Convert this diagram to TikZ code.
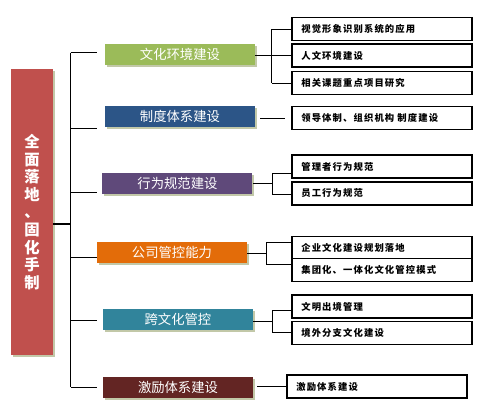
\documentclass[tikz,border=0pt]{standalone}
\usepackage{fontspec}
\newfontfamily\cjk{Noto Sans CJK SC}
\newfontfamily\cjkleaf[LetterSpace=12]{Noto Sans CJK SC}
\usetikzlibrary{shadows}

\definecolor{rootred}{HTML}{C0504D}
\definecolor{catgreen}{HTML}{9BBB59}
\definecolor{catblue}{HTML}{2C5587}
\definecolor{catpurple}{HTML}{5F497A}
\definecolor{catorange}{HTML}{E36C09}
\definecolor{catteal}{HTML}{31849B}
\definecolor{catmaroon}{HTML}{632523}
\definecolor{shadowgreen}{HTML}{C2C8A8}

\tikzset{
  boxshadow/.style={drop shadow={shadow xshift=1.5pt, shadow yshift=-1.5pt,
      fill=shadowgreen, opacity=1}},
  rootbox/.style={fill=rootred, boxshadow, minimum width=31.5pt,
      minimum height=214.5pt, inner sep=0pt, text=white, align=center,
      font=\cjk\bfseries\fontsize{11.5}{13.2}\selectfont},
  catbox/.style={fill=#1, boxshadow, minimum width=112.5pt,
      minimum height=15.75pt, inner sep=0pt, text=white,
      font=\cjk\fontsize{10}{12}\selectfont},
  leafbox/.style={draw=black, line width=0.9pt, fill=white,
      minimum height=17.25pt, text width=121pt, inner xsep=7pt,
      inner ysep=0pt, align=left, font=\cjkleaf\bfseries\fontsize{7}{8}\selectfont},
  link/.style={line width=0.75pt}
}

\begin{document}
\begin{tikzpicture}[x=0.75pt,y=-0.75pt]
\useasboundingbox (0,0) rectangle (480,404);

% root box
\node [rootbox] (root) at (32,212) {全\\面\\落\\地\\、\\固\\化\\手\\制};

% first level boxes
\foreach \name/\xx/\yy/\col/\lab in {
  cultA/180/54/catgreen/文化环境建设,
  cultB/180/116.5/catblue/制度体系建设,
  cultC/177.5/183/catpurple/行为规范建设,
  cultD/172/252.5/catorange/公司管控能力,
  cultE/178/319.5/catteal/跨文化管控,
  cultF/178/387/catmaroon/激励体系建设} {
  \node [catbox=\col] (\name) at (\xx,\yy) {\lab};
}

% leaves
\node [leafbox] (a1) at (382,29)    {视觉形象识别系统的应用};
\node [leafbox] (a2) at (382,55.5)  {人文环境建设};
\node [leafbox] (a3) at (382,83)    {相关课题重点项目研究};
\node [leafbox] (b1) at (382,118)   {领导体制、组织机构 制度建设};
\node [leafbox] (c1) at (382,166.5) {管理者行为规范};
\node [leafbox] (c2) at (382,193.5) {员工行为规范};
\node [leafbox] (d1) at (382,248)   {企业文化建设规划落地};
\node [leafbox] (d2) at (382,270)   {集团化、一体化文化管控模式};
\node [leafbox] (e1) at (382,306.5) {文明出境管理};
\node [leafbox] (e2) at (382,333)   {境外分支文化建设};
\node [leafbox] (f1) at (377,386.5) {激励体系建设};

% trunk on the left
\coordinate (trunkTop) at (70.7,52.7);
\coordinate (trunkBot) at (70.7,387);
\coordinate (hub) at (70.7,224);
\draw [link] (trunkTop) -- (trunkBot);
\draw [line width=1.9pt] (hub -| root.east) -- (hub);
\foreach \yy in {52.7,128,192,257,320,387} {
  \draw [link] (70.7,\yy) -- (97,\yy);
}

% right side brackets
\coordinate (kA) at (272,55);
\draw [link] (cultA.east |- kA) -- (kA);
\draw [link] (a1.west -| kA) -- (a3.west -| kA);
\foreach \leaf in {a1,a2,a3} \draw [link] (\leaf.west -| kA) -- (\leaf.west);

\draw [link, shorten <=3.75pt, shorten >=5pt] (cultB.east |- b1.west) -- (b1.west);

\coordinate (kC) at (273,183);
\coordinate (kCt) at (273,173);
\coordinate (kCb) at (273,194);
\draw [link] (cultC.east |- kC) -- (kC);
\draw [link] (kCt -| c1.west) -- (kCt) -- (kCb) -- (kCb -| c2.west);

\coordinate (kD) at (267,253);
\coordinate (kDt) at (267,242);
\coordinate (kDb) at (267,264);
\draw [link] (cultD.east |- kD) -- (kD);
\draw [link] (kDt -| d1.west) -- (kDt) -- (kDb) -- (kDb -| d2.west);

\coordinate (kE) at (273,321);
\coordinate (kEt) at (273,310);
\coordinate (kEb) at (273,332);
\draw [link] (cultE.east |- kE) -- (kE);
\draw [link] (kEt -| e1.west) -- (kEt) -- (kEb) -- (kEb -| e2.west);

\draw [link, shorten <=3pt] (cultF.east |- f1.west) -- (f1.west);
\end{tikzpicture}
\end{document}
